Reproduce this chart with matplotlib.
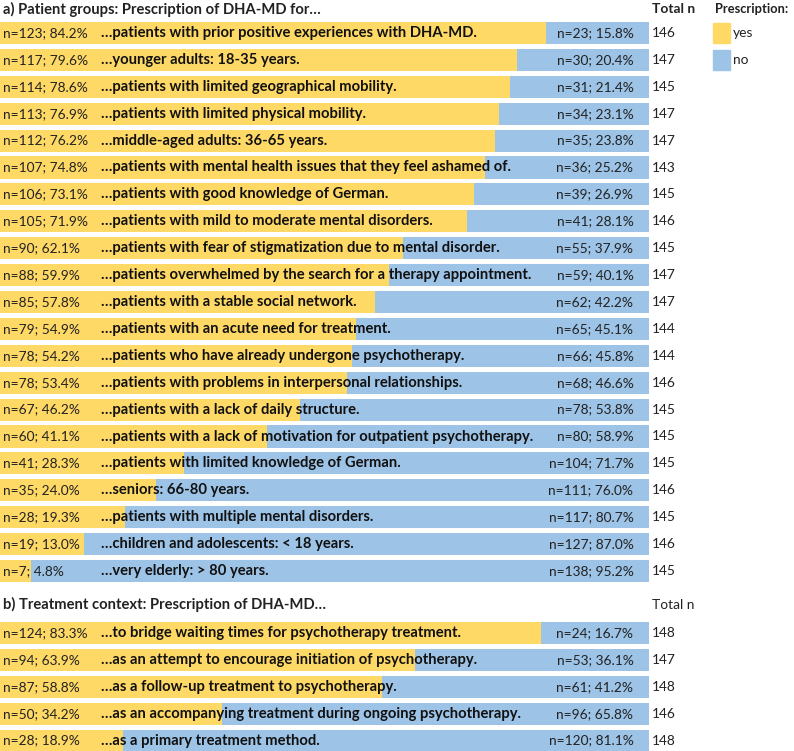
import matplotlib
matplotlib.use("Agg")
import matplotlib.pyplot as plt
from matplotlib.patches import Rectangle

plt.rcParams['font.family'] = ['Lato', 'DejaVu Sans']

YES_COLOR = "#FFD966"
NO_COLOR = "#9DC3E6"

# ---- data: a) patient groups ----
a_labels = [
    "…patients with prior positive experiences with DHA-MD.",
    "…younger adults: 18-35 years.",
    "…patients with limited geographical mobility.",
    "…patients with limited physical mobility.",
    "…middle-aged adults: 36-65 years.",
    "…patients with mental health issues that they feel ashamed of.",
    "…patients with good knowledge of German.",
    "…patients with mild to moderate mental disorders.",
    "…patients with fear of stigmatization due to mental disorder.",
    "…patients overwhelmed by the search for a therapy appointment.",
    "…patients with a stable social network.",
    "…patients with an acute need for treatment.",
    "…patients who have already undergone psychotherapy.",
    "…patients with problems in interpersonal relationships.",
    "…patients with a lack of daily structure.",
    "…patients with a lack of motivation for outpatient psychotherapy.",
    "…patients with limited knowledge of German.",
    "…seniors: 66-80 years.",
    "…patients with multiple mental disorders.",
    "…children and adolescents: < 18 years.",
    "…very elderly: > 80 years.",
]
a_yes_n = [123, 117, 114, 113, 112, 107, 106, 105, 90, 88, 85, 79, 78, 78, 67, 60, 41, 35, 28, 19, 7]
a_yes_pct = [84.2, 79.6, 78.6, 76.9, 76.2, 74.8, 73.1, 71.9, 62.1, 59.9, 57.8, 54.9, 54.2, 53.4, 46.2, 41.1, 28.3, 24.0, 19.3, 13.0, 4.8]
a_no_n = [23, 30, 31, 34, 35, 36, 39, 41, 55, 59, 62, 65, 66, 68, 78, 80, 104, 111, 117, 127, 138]
a_no_pct = [15.8, 20.4, 21.4, 23.1, 23.8, 25.2, 26.9, 28.1, 37.9, 40.1, 42.2, 45.1, 45.8, 46.6, 53.8, 58.9, 71.7, 76.0, 80.7, 87.0, 95.2]
a_total = [146, 147, 145, 147, 147, 143, 145, 146, 145, 147, 147, 144, 144, 146, 145, 145, 145, 146, 145, 146, 145]

# ---- data: b) treatment context ----
b_labels = [
    "…to bridge waiting times for psychotherapy treatment.",
    "…as an attempt to encourage initiation of psychotherapy.",
    "…as a follow-up treatment to psychotherapy.",
    "…as an accompanying treatment during ongoing psychotherapy.",
    "…as a primary treatment method.",
]
b_yes_n = [124, 94, 87, 50, 28]
b_yes_pct = [83.3, 63.9, 58.8, 34.2, 18.9]
b_no_n = [24, 53, 61, 96, 120]
b_no_pct = [16.7, 36.1, 41.2, 65.8, 81.1]
b_total = [148, 147, 148, 146, 148]

W, H = 794, 751
fig = plt.figure(figsize=(W / 100, H / 100), dpi=100)

FS = 9.9
FS_B = 10.6
BAR_W = 649  # px width of full bar
PITCH = 26.9


def make_axes(top_px, nrows):
    top = top_px - PITCH / 2
    ax = fig.add_axes([0, 1 - (top + nrows * PITCH) / H, BAR_W / W, nrows * PITCH / H])
    ax.set_xlim(0, 100)
    ax.set_ylim(nrows - 0.5, -0.5)
    ax.axis("off")
    return ax


def draw(ax, labels, yn, yp, nn, npct, tot):
    ys = list(range(len(labels)))
    ax.barh(ys, yp, height=0.82, color=YES_COLOR, left=0)
    ax.barh(ys, npct, height=0.82, color=NO_COLOR, left=yp)
    for i in ys:
        ax.text(0.4, i, f"n={yn[i]}; {yp[i]:.1f}%", ha="left", va="center",
                fontsize=FS, color="#222222")
        ax.text(15.6, i, labels[i], ha="left", va="center", fontsize=FS_B,
                fontweight="bold", color="#111111")
        ax.text(97.6, i, f"n={nn[i]}; {npct[i]:.1f}%", ha="right", va="center",
                fontsize=FS, color="#222222")
        ax.text(100.45, i, f"{tot[i]}", ha="left", va="center", fontsize=FS,
                color="#222222", clip_on=False)


ax_a = make_axes(33, len(a_labels))
draw(ax_a, a_labels, a_yes_n, a_yes_pct, a_no_n, a_no_pct, a_total)

ax_b = make_axes(633, len(b_labels))
draw(ax_b, b_labels, b_yes_n, b_yes_pct, b_no_n, b_no_pct, b_total)

# titles
fig.text(3 / W, 1 - 9 / H, "a) Patient groups: Prescription of DHA-MD for…",
         ha="left", va="center", fontsize=10.6, fontweight="bold", color="#222222")
fig.text(652 / W, 1 - 9 / H, "Total n", ha="left", va="center", fontsize=FS,
         fontweight="bold", color="#222222")
fig.text(715 / W, 1 - 9 / H, "Prescription:", ha="left", va="center", fontsize=9.3,
         fontweight="bold", color="#222222")
fig.text(3 / W, 1 - 604 / H, "b) Treatment context: Prescription of DHA-MD…",
         ha="left", va="center", fontsize=10.6, fontweight="bold", color="#222222")
fig.text(652 / W, 1 - 605 / H, "Total n", ha="left", va="center", fontsize=FS,
         color="#222222")

# legend
for y0, col, lab in [(23, YES_COLOR, "yes"), (50, NO_COLOR, "no")]:
    fig.patches.append(Rectangle((713 / W, 1 - (y0 + 20) / H), 17 / W, 20 / H,
                                 transform=fig.transFigure, color=col))
    fig.text(733 / W, 1 - (y0 + 10) / H, lab, ha="left", va="center",
             fontsize=FS, color="#222222")

fig.savefig("out.png", dpi=100)
